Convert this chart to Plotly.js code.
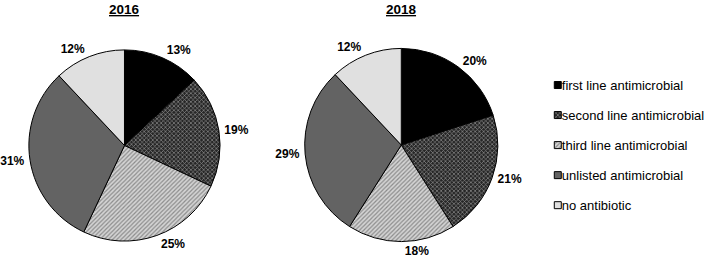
<!DOCTYPE html>
<html>
<head>
<meta charset="utf-8">
<script src="https://cdn.plot.ly/plotly-3.0.1.min.js"></script>
<style>html,body{margin:0;padding:0;background:#fff;}#chart{width:706px;height:258px;}</style>
</head>
<body>
<div id="chart"></div>
<script>
// Data
const categories = ["first line antimicrobial", "second line antimicrobial", "third line antimicrobial", "unlisted antimicrobial", "no antibiotic"];
const values2016 = [13, 19, 25, 31, 12];
const values2018 = [20, 21, 18, 29, 12];
const years = ["2016", "2018"];

const fillColors = ["#000000", "#3a3a3a", "#c8c8c8", "#636363", "#e0e0e0"];
const pattern = {
  shape: ["", "x", "/", "", ""],
  bgcolor: ["#000000", "#262626", "#d4d4d4", "#636363", "#e0e0e0"],
  fgcolor: ["#000000", "#8a8a8a", "#8c8c8c", "#636363", "#e0e0e0"],
  size: 3,
  solidity: 0.4,
  fillmode: "replace"
};

const font = {family: "Liberation Sans, Arial, sans-serif", color: "#000"};
const W = 706, H = 258;

function pieTrace(vals, domain, showlegend) {
  return {
    type: "pie",
    labels: categories.map(c => '<span style="font-size:13px">' + c + '</span>'),
    values: vals,
    sort: false,
    direction: "clockwise",
    rotation: 0,
    domain: domain,
    textinfo: "none",
    marker: {
      colors: fillColors,
      pattern: pattern,
      line: {color: "#000", width: 1}
    },
    showlegend: showlegend,
    hoverinfo: "none"
  };
}

// transparent companion pie, slightly larger, that carries the outside percentage labels
function labelTrace(vals, domain) {
  return {
    type: "pie",
    labels: categories,
    values: vals,
    sort: false,
    direction: "clockwise",
    rotation: 0,
    domain: domain,
    textposition: "outside",
    texttemplate: "%{value}%",
    textfont: Object.assign({}, font, {size: 12, weight: "bold"}),
    marker: {colors: categories.map(() => "rgba(0,0,0,0)"), line: {width: 0}},
    showlegend: false,
    hoverinfo: "none"
  };
}

const pad = 2;
const dom16 = {x: [29, 221], y: [49, 242]};
const dom18 = {x: [306, 500], y: [48, 242]};
function toDomain(d, p) {
  return {x: [(d.x[0] - p) / W, (d.x[1] + p) / W], y: [1 - (d.y[1] + p) / H, 1 - (d.y[0] - p) / H]};
}

const data = [
  pieTrace(values2016, toDomain(dom16, 0), true),
  pieTrace(values2018, toDomain(dom18, 0), false),
  labelTrace(values2016, toDomain(dom16, pad)),
  labelTrace(values2018, toDomain(dom18, pad))
];

const layout = {
  width: W, height: H,
  margin: {l: 0, r: 0, t: 0, b: 0},
  paper_bgcolor: "#fff",
  font: font,
  showlegend: true,
  legend: {
    x: 520 / W, xanchor: "left",
    y: 1 - 62 / H, yanchor: "top",
    font: Object.assign({}, font, {size: 20.8}),
    bgcolor: "rgba(0,0,0,0)",
    traceorder: "normal"
  },
  annotations: years.map((yr, i) => ({
    text: "<b><u>" + yr + "</u></b>",
    x: (i === 0 ? 125 : 403) / W, y: 1 - 10 / H,
    xanchor: "center", yanchor: "middle",
    xref: "paper", yref: "paper", showarrow: false,
    font: Object.assign({}, font, {size: 13.5})
  }))
};

Plotly.newPlot("chart", data, layout, {displayModeBar: false, staticPlot: true}).then(function () {
  document.querySelectorAll("#chart .legend .legendpoints path").forEach(function (p) {
    p.setAttribute("d", "M3.5,3.5H-3.5V-3.5H3.5Z");
    p.setAttribute("transform", "translate(36,3)");
  });
  const lg = document.querySelector("#chart .legend");
  if (lg) {
    const m = /translate\(([-\d.]+)[ ,]+([-\d.]+)\)/.exec(lg.getAttribute("transform") || "");
    if (m) lg.setAttribute("transform", "translate(" + (parseFloat(m[1]) + 4) + "," + m[2] + ")");
  }
});
</script>
</body>
</html>
